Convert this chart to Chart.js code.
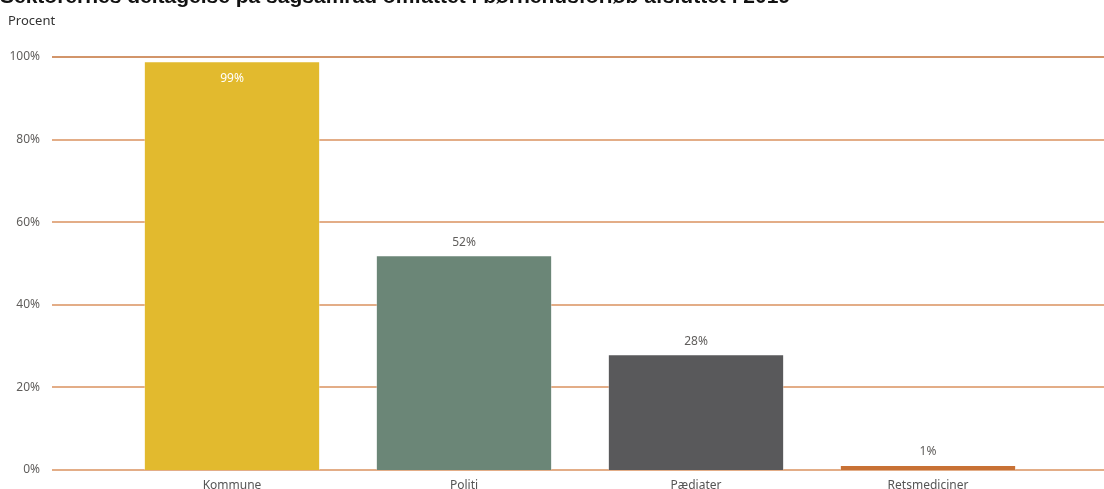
<!DOCTYPE html>
<html>
<head>
<meta charset="utf-8">
<script src="https://cdn.jsdelivr.net/npm/chart.js@4/dist/chart.umd.min.js"></script>
<style>
  html, body { margin: 0; padding: 0; background: #fff; overflow: hidden; }
  #wrap { position: relative; width: 1104px; height: 489px; }
  #title { position: absolute; left: 0; top: -16px; font: bold 21px Arial, "Liberation Sans", sans-serif; color: #111; white-space: nowrap; }
  #unit { position: absolute; left: 8px; top: 11px; font: 13px "Segoe UI", "Noto Sans", sans-serif; color: #333; }
</style>
</head>
<body>
<div id="wrap">
  <canvas id="myChart"></canvas>
  <div id="title">Sektorernes deltagelse på sagsamråd omfattet i børnehusforløb afsluttet i 2019</div>
  <div id="unit">Procent</div>
</div>
<script>
const categories = ["Kommune", "Politi", "Pædiater", "Retsmediciner"];
const values = [99, 52, 28, 1];
const barColors = ["#e2ba2e", "#6b8677", "#59595b", "#c87135"];
const yTicks = [0, 20, 40, 60, 80, 100];

const FONT = "'Segoe UI', 'Noto Sans', sans-serif";

// gridlines run wider than the bar area, so draw them ourselves
const gridPlugin = {
  id: "wideGrid",
  beforeDatasetsDraw(chart) {
    const ctx = chart.ctx;
    const y = chart.scales.y;
    ctx.save();
    yTicks.forEach((t) => {
      const py = Math.round(y.getPixelForValue(t));
      ctx.strokeStyle = t === 100 ? "#d2956a" : "#e3ad87";
      ctx.lineWidth = 2;
      ctx.beginPath();
      ctx.moveTo(52, py);
      ctx.lineTo(chart.width, py);
      ctx.stroke();
    });
    ctx.restore();
  },
};

const labelPlugin = {
  id: "barLabels",
  afterDatasetsDraw(chart) {
    const ctx = chart.ctx;
    const meta = chart.getDatasetMeta(0);
    ctx.save();
    ctx.font = "12px " + FONT;
    ctx.textAlign = "center";
    ctx.textBaseline = "middle";
    meta.data.forEach((bar, i) => {
      const v = values[i];
      if (v > 90) {
        ctx.fillStyle = "#ffffff";
        ctx.fillText(v + "%", bar.x, bar.y + 17);
      } else {
        ctx.fillStyle = "#605e5c";
        ctx.fillText(v + "%", bar.x, bar.y - 13);
      }
    });
    ctx.restore();
  },
};

const ctx = document.getElementById("myChart");
new Chart(ctx, {
  type: "bar",
  data: {
    labels: categories,
    datasets: [
      {
        data: values,
        backgroundColor: barColors,
        borderColor: "rgba(255,255,255,0.35)",
        borderWidth: 1,
        barPercentage: 0.76,
        categoryPercentage: 1,
        minBarLength: 5,
      },
    ],
  },
  options: {
    responsive: true,
    maintainAspectRatio: false,
    animation: false,
    layout: { padding: { top: 57, right: 60, left: 0, bottom: 0 } },
    scales: {
      y: {
        min: 0,
        max: 100,
        // wide axis box, but don't let the big tick padding eat vertical space
        afterFit: (s) => {
          s.width = 116;
          s.paddingTop = 6;
          s.paddingBottom = 6;
        },
        afterBuildTicks: (s) => { s.ticks = yTicks.map((v) => ({ value: v })); },
        grid: { display: false, drawTicks: false },
        border: { display: false },
        ticks: {
          padding: 76,
          color: "#605e5c",
          font: { size: 12, family: FONT },
          callback: (v) => v + "%",
        },
      },
      x: {
        afterFit: (s) => { s.height = 19; },
        grid: { display: false, drawTicks: false },
        border: { display: false },
        ticks: {
          padding: 8,
          color: "#555",
          font: { size: 12, family: FONT },
        },
      },
    },
    plugins: {
      legend: { display: false },
      tooltip: { enabled: false },
    },
  },
  plugins: [gridPlugin, labelPlugin],
});
</script>
</body>
</html>
